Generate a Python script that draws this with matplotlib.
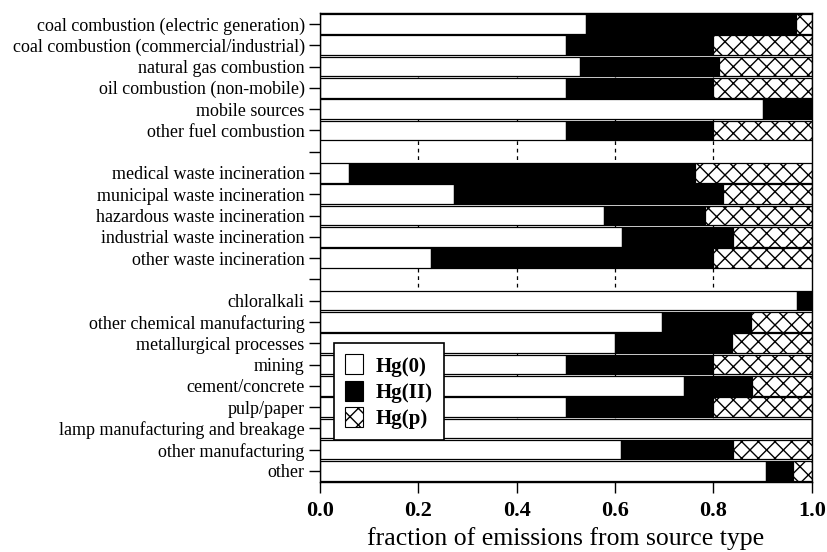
import matplotlib
matplotlib.use('Agg')
import matplotlib.pyplot as plt
from matplotlib.patches import Patch
import numpy as np

plt.rcParams['font.family'] = ['Liberation Serif', 'DejaVu Serif']
plt.rcParams['hatch.linewidth'] = 1.0

sources = ['coal combustion (electric generation)',
           'coal combustion (commercial/industrial)',
           'natural gas combustion',
           'oil combustion (non-mobile)',
           'mobile sources',
           'other fuel combustion',
           '',
           'medical waste incineration',
           'municipal waste incineration',
           'hazardous waste incineration',
           'industrial waste incineration',
           'other waste incineration',
           '',
           'chloralkali',
           'other chemical manufacturing',
           'metallurgical processes',
           'mining',
           'cement/concrete',
           'pulp/paper',
           'lamp manufacturing and breakage',
           'other manufacturing',
           'other']

# fractions (blank rows = 0)
hg0 = [0.541, 0.50, 0.528, 0.50, 0.90, 0.50, 0,
       0.058, 0.272, 0.578, 0.615, 0.2255, 0,
       0.970, 0.696, 0.60, 0.50, 0.741, 0.50, 1.0, 0.613, 0.9075]
hg2 = [0.428, 0.30, 0.2835, 0.30, 0.10, 0.30, 0,
       0.705, 0.548, 0.205, 0.225, 0.5745, 0,
       0.030, 0.180, 0.2376, 0.30, 0.138, 0.30, 0.0, 0.227, 0.054]
hgp = [0.031, 0.20, 0.1885, 0.20, 0.0, 0.20, 0,
       0.237, 0.180, 0.217, 0.160, 0.20, 0,
       0.0, 0.124, 0.1624, 0.20, 0.121, 0.20, 0.0, 0.160, 0.0385]

y = np.arange(len(sources))
hg0 = np.array(hg0)
hg2 = np.array(hg2)
hgp = np.array(hgp)
filled = np.array([s != '' for s in sources])

fig = plt.figure(figsize=(8.28, 5.52), dpi=100)
ax = fig.add_axes([0.3865, 0.1275, 0.5938, 0.8484])

for x in [0.2, 0.4, 0.6, 0.8]:
    ax.axvline(x, color='black', lw=0.9, ls=(0, (3, 3)), zorder=0)

h = 0.92
ax.barh(y[filled], hg0[filled], height=h, color='white', edgecolor='black', lw=0.9, zorder=2)
ax.barh(y[filled], hg2[filled], left=hg0[filled], height=h, color='black', edgecolor='black', lw=0.9, zorder=2)
ax.barh(y[filled], hgp[filled], left=(hg0 + hg2)[filled], height=h, color='white',
        edgecolor='black', hatch='xx', lw=0.9, zorder=2)

ax.set_xlim(0, 1)
ax.set_ylim(len(sources) - 0.5, -0.5)
ax.set_yticks(y)
ax.set_yticklabels(sources, fontsize=13)
ax.set_xticks([0, 0.2, 0.4, 0.6, 0.8, 1.0])
ax.set_xticklabels(['0.0', '0.2', '0.4', '0.6', '0.8', '1.0'], fontsize=16, fontweight='bold')
ax.tick_params(axis='y', direction='out', length=8, width=1, pad=3)
ax.tick_params(axis='x', direction='out', length=8, width=1, pad=6)
ax.set_xlabel('fraction of emissions from source type', fontsize=18.5, labelpad=4)
for sp in ax.spines.values():
    sp.set_linewidth(1)

handles = [Patch(facecolor='white', edgecolor='black', lw=0.8),
           Patch(facecolor='black', edgecolor='black', lw=0.8),
           Patch(facecolor='white', edgecolor='black', hatch='xx', lw=0.8)]
leg = fig.legend(handles, ['Hg(0)', 'Hg(II)', 'Hg(p)'], loc='upper left',
                 bbox_to_anchor=(334 / 828, 1 - 343 / 552), borderaxespad=0,
                 fancybox=False, edgecolor='black', framealpha=1,
                 handlelength=0.85, handleheight=1.1,
                 prop={'weight': 'bold', 'size': 15}, labelspacing=0.2,
                 handletextpad=0.6, borderpad=0.55)
leg.get_frame().set_linewidth(1.2)

fig.savefig('out.png', dpi=100)
